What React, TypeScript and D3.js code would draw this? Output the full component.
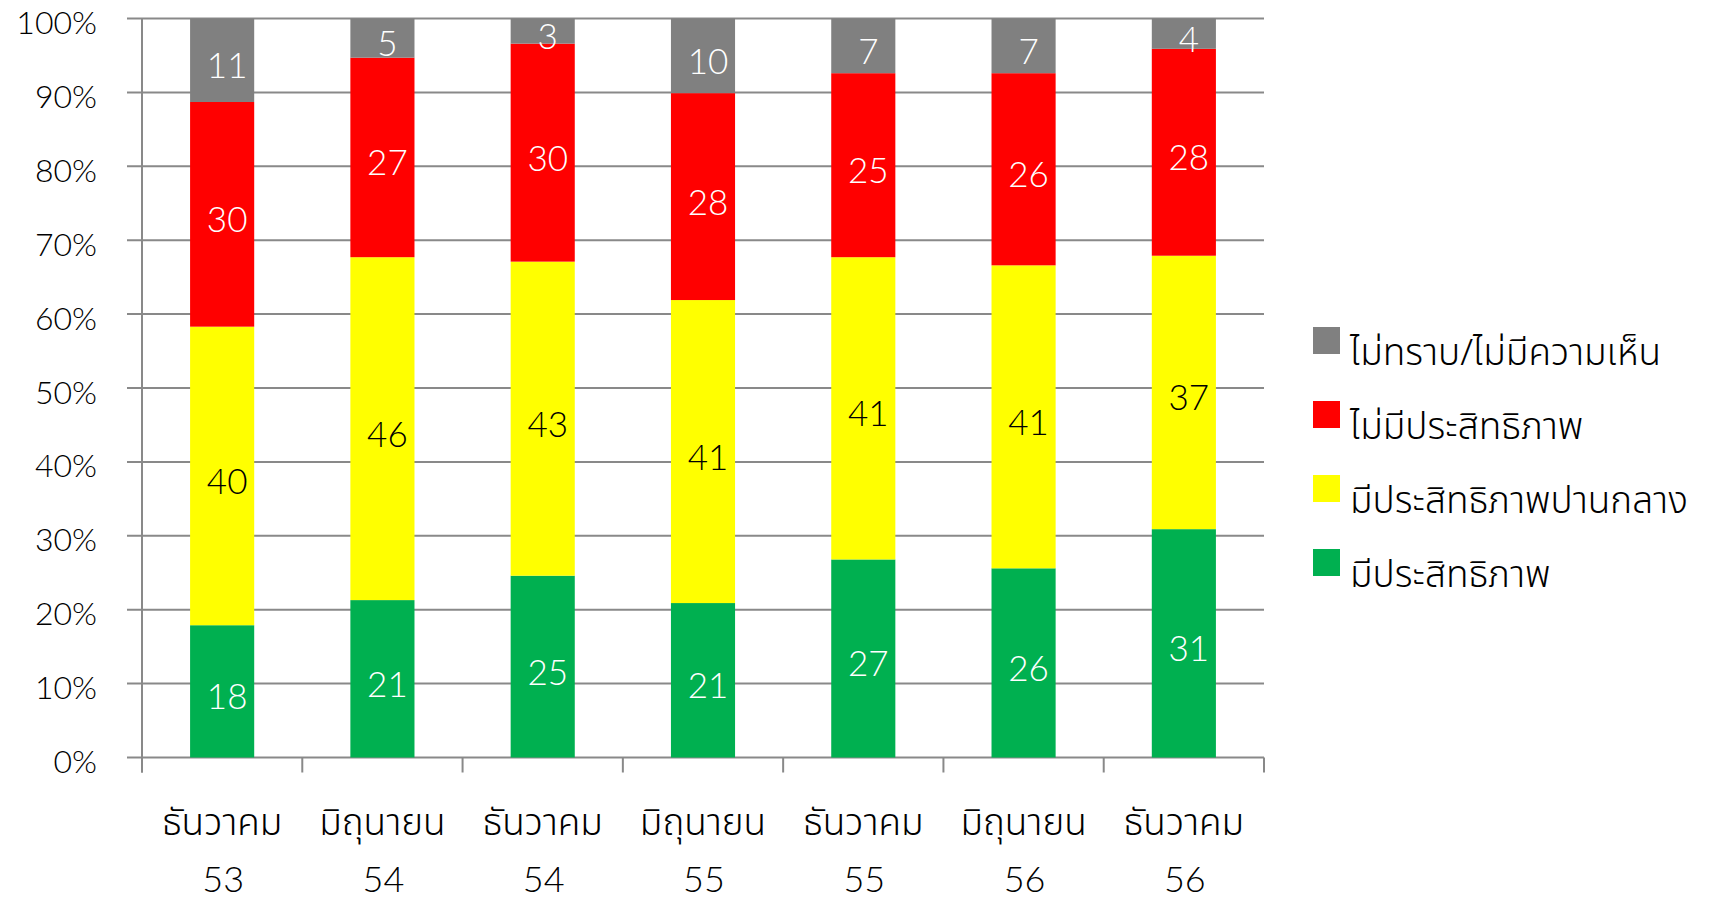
import React from 'react';
import * as d3 from 'd3';

const categories = ['ธันวาคม 53', 'มิถุนายน 54', 'ธันวาคม 54', 'มิถุนายน 55', 'ธันวาคม 55', 'มิถุนายน 56', 'ธันวาคม 56'];
const seriesNames = ['มีประสิทธิภาพ', 'มีประสิทธิภาพปานกลาง', 'ไม่มีประสิทธิภาพ', 'ไม่ทราบ/ไม่มีความเห็น'];
const effective = [17.9, 21.3, 24.6, 20.9, 26.8, 25.6, 30.9];
const moderate = [40.4, 46.4, 42.5, 41.0, 40.9, 41.0, 37.0];
const notEffective = [30.4, 27.0, 29.5, 28.0, 24.9, 26.0, 28.0];
const unknown = [11.3, 5.3, 3.4, 10.1, 7.4, 7.4, 4.1];
const colors = ['#00B050', '#FFFF00', '#FF0000', '#808080'];
const labelColors = ['#fff', '#000', '#fff', '#fff'];
const yTicks = [0, 10, 20, 30, 40, 50, 60, 70, 80, 90, 100];

const width = 1711;
const height = 900;
const plot = { left: 142, right: 1264, top: 18.5, bottom: 757.5 };
const numFont = 'Lato, "Open Sans", "DejaVu Sans", sans-serif';
const thaiFont = '"Noto Sans Thai", "Noto Sans", "DejaVu Sans", sans-serif';
const axisColor = '#898989';

export default function App() {
  const keys = ['effective', 'moderate', 'notEffective', 'unknown'];
  const raw = [effective, moderate, notEffective, unknown];
  const rows = categories.map((c, i) => ({
    cat: c,
    effective: effective[i],
    moderate: moderate[i],
    notEffective: notEffective[i],
    unknown: unknown[i],
  }));
  const stacked = d3.stack().keys(keys).offset(d3.stackOffsetExpand)(rows as any);

  const x = d3
    .scaleBand()
    .domain(categories)
    .range([plot.left, plot.right])
    .paddingInner(0.6)
    .paddingOuter(0.3);
  const y = d3.scaleLinear().domain([0, 1]).range([plot.bottom, plot.top]);
  const yPct = d3.scaleLinear().domain([0, 100]).range([plot.bottom, plot.top]);
  const step = x.step();

  const legendOrder = [3, 2, 1, 0];

  return (
    <svg width={width} height={height} style={{ position: 'absolute', left: 0, top: 0, background: '#fff' }}>
      {/* gridlines */}
      {yTicks.map((t) => (
        <g key={t}>
          <line x1={plot.left - 15} x2={plot.right} y1={yPct(t)} y2={yPct(t)} stroke={axisColor} strokeWidth={2} />
          <text
            x={97}
            y={yPct(t) + 3}
            textAnchor="end"
            dominantBaseline="central"
            fontFamily={numFont}
            fontWeight={300}
            fontSize={32}
            fill="#000"
          >
            {t}%
          </text>
        </g>
      ))}
      {/* y axis */}
      <line x1={plot.left} x2={plot.left} y1={plot.top} y2={plot.bottom + 15} stroke={axisColor} strokeWidth={2} />
      {/* x ticks */}
      {d3.range(categories.length + 1).map((i) => {
        const xx = plot.left + i * step;
        return <line key={i} x1={xx} x2={xx} y1={plot.bottom} y2={plot.bottom + 15} stroke={axisColor} strokeWidth={2} />;
      })}
      {/* bars */}
      {stacked.map((s, si) => (
        <g key={s.key} fill={colors[si]}>
          {s.map((d, i) => (
            <rect
              key={i}
              x={x(categories[i])}
              y={y(d[1])}
              width={x.bandwidth()}
              height={y(d[0]) - y(d[1])}
            />
          ))}
        </g>
      ))}
      {/* data labels */}
      {stacked.map((s, si) => (
        <g key={s.key + '-lbl'}>
          {s.map((d, i) => (
            <text
              key={i}
              x={(x(categories[i]) as number) + x.bandwidth() / 2 + 5}
              y={(y(d[0]) + y(d[1])) / 2 + 4}
              textAnchor="middle"
              dominantBaseline="central"
              fontFamily={numFont}
              fontWeight={300}
              fontSize={35}
              fill={labelColors[si]}
            >
              {Math.round(raw[si][i])}
            </text>
          ))}
        </g>
      ))}
      {/* x labels */}
      {categories.map((c) => {
        const [month, year] = c.split(' ');
        const cx = (x(c) as number) + x.bandwidth() / 2;
        return (
          <g key={c}>
            <text x={cx} y={835} textAnchor="middle" fontFamily={thaiFont} fontWeight={300} fontSize={37} fill="#000">
              {month}
            </text>
            <text x={cx + 1} y={892} textAnchor="middle" fontFamily={numFont} fontWeight={300} fontSize={36} fill="#000">
              {year}
            </text>
          </g>
        );
      })}
      {/* legend */}
      {legendOrder.map((si, k) => (
        <g key={si} transform={`translate(1313, ${327 + k * 74})`}>
          <rect width={27} height={27} fill={colors[si]} />
          <text x={37} y={38} fontFamily={thaiFont} fontWeight={300} fontSize={37} fill="#000">
            {seriesNames[si]}
          </text>
        </g>
      ))}
    </svg>
  );
}
